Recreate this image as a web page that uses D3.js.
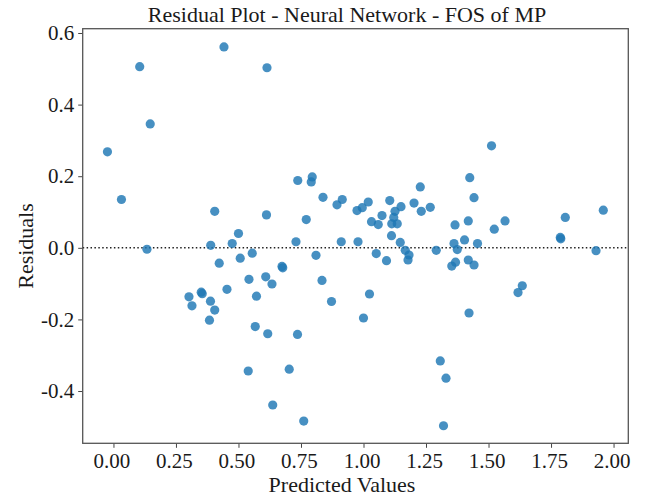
<!DOCTYPE html>
<html lang="en">
<head>
  <meta charset="utf-8" />
  <script src="https://d3js.org/d3.v7.min.js"></script>
  <style>
    body { margin: 0; background: #fff; }
    text { font-family: "Liberation Serif", "Times New Roman", serif; fill: #1a1a1a; }
    .tick line { stroke: #444; }
    .domain { display: none; }
  </style>
</head>
<body>
  <div id="visu"></div>

  <script>
    const titre = "Residual Plot - Neural Network - FOS of MP";
    const labelX = "Predicted Values";
    const labelY = "Residuals";

    // valeurs (prédit, résidu)
    const predicted = [
      0.105, 0.442, 0.614, 0.147, -0.024, 0.032, 0.134, 0.405, 0.612, 0.500,
      0.475, 0.389, 0.555, 0.507, 0.423, 0.542, 0.609, 0.634, 0.454, 0.351,
      0.355, 0.302, 0.388, 0.314, 0.405, 0.572, 0.384, 0.567, 0.617, 0.737,
      0.795, 0.791, 0.838, 0.771, 0.730, 0.810, 0.674, 0.677, 0.834, 0.872,
      1.024, 1.000, 0.894, 0.915, 0.911, 0.978, 0.974, 0.995, 1.019, 1.032,
      1.059, 1.074, 1.105, 1.126, 1.121, 1.150, 1.113, 1.135, 1.112, 1.147,
      1.051, 1.092, 1.167, 1.182, 1.178, 1.227, 1.202, 1.231, 1.267, 1.291,
      1.366, 1.362, 1.375, 1.368, 1.353, 1.425, 1.442, 1.419, 1.523, 1.566,
      1.404, 1.456, 1.419, 1.442, 1.422, 1.635, 1.618, 1.807, 1.787, 1.789,
      1.959, 1.930, 1.512, 0.736, 0.539, 0.703, 0.637, 0.761, 1.307, 1.330,
      1.320
    ];
    const residuals = [
      0.506, 0.561, 0.503, 0.346, 0.268, 0.135, -0.004, 0.102, 0.092, 0.040,
      0.012, 0.007, -0.015, -0.029, -0.043, -0.088, -0.081, -0.101, -0.116, -0.124,
      -0.128, -0.137, -0.149, -0.162, -0.174, -0.135, -0.202, -0.220, -0.240, 0.188,
      0.198, 0.184, 0.141, 0.079, 0.017, -0.021, -0.052, -0.056, -0.091, -0.150,
      -0.129, -0.196, 0.120, 0.135, 0.017, 0.017, 0.104, 0.112, 0.128, 0.073,
      0.065, 0.090, 0.132, 0.102, 0.085, 0.115, 0.067, 0.067, 0.034, 0.015,
      -0.016, -0.036, -0.007, -0.020, -0.034, 0.170, 0.125, 0.102, 0.113, -0.007,
      0.064, 0.012, -0.005, -0.040, -0.051, 0.196, 0.140, 0.075, 0.052, 0.075,
      0.022, 0.012, -0.034, -0.048, -0.182, -0.106, -0.125, 0.085, 0.029, 0.025,
      0.105, -0.008, 0.285, -0.242, -0.344, -0.339, -0.439, -0.484, -0.316, -0.364,
      -0.497
    ];
    const ticksX = [0, 0.25, 0.5, 0.75, 1, 1.25, 1.5, 1.75, 2];
    const ticksY = [-0.4, -0.2, 0, 0.2, 0.4, 0.6];

    const width = 647, height = 501;
    const margin = { top: 28.7, right: 18.7, bottom: 57.7, left: 82.7 };
    const w = width - margin.left - margin.right;
    const h = height - margin.top - margin.bottom;

    const points = predicted.map((p, i) => ({ x: p, y: residuals[i] }));

    const svg = d3.select("#visu")
      .append("svg")
      .attr("width", width)
      .attr("height", height);

    const g = svg.append("g")
      .attr("transform", `translate(${margin.left},${margin.top})`);

    const x = d3.scaleLinear().domain([-0.123, 2.059]).range([0, w]);
    const y = d3.scaleLinear().domain([-0.546, 0.612]).range([h, 0]);

    const axeX = g.append("g")
      .attr("transform", `translate(0,${h})`)
      .call(d3.axisBottom(x).tickValues(ticksX).tickFormat(d3.format(".2f")).tickSize(4.5).tickPadding(5));
    axeX.selectAll("text").style("font-size", "21px").attr("dx", "-2");

    const axeY = g.append("g")
      .call(d3.axisLeft(y).tickValues(ticksY).tickFormat(d => d3.format(".1f")(d).replace("−", "-")).tickSize(4.5).tickPadding(4));
    axeY.selectAll("text").style("font-size", "21px");

    // ligne zéro pointillée
    g.append("line")
      .attr("x1", 0)
      .attr("x2", w)
      .attr("y1", y(0))
      .attr("y2", y(0))
      .style("stroke", "#222")
      .style("stroke-width", 1.4)
      .style("stroke-dasharray", "1.5,2.4");

    g.selectAll(".pt")
      .data(points)
      .enter().append("circle")
      .attr("class", "pt")
      .attr("cx", d => x(d.x))
      .attr("cy", d => y(d.y))
      .attr("r", 4.6)
      .style("fill", "#1f77b4")
      .style("fill-opacity", 0.82);

    g.append("rect")
      .attr("width", w)
      .attr("height", h)
      .style("fill", "none")
      .style("stroke", "#555")
      .style("stroke-width", 1.3);

    svg.append("text")
      .attr("x", 347)
      .attr("y", 22)
      .attr("text-anchor", "middle")
      .style("font-size", "22px")
      .text(titre);

    svg.append("text")
      .attr("x", 342)
      .attr("y", 492)
      .attr("text-anchor", "middle")
      .style("font-size", "22px")
      .text(labelX);

    svg.append("text")
      .attr("transform", `translate(33,246) rotate(-90)`)
      .attr("text-anchor", "middle")
      .style("font-size", "22px")
      .text(labelY);
  </script>
</body>
</html>
